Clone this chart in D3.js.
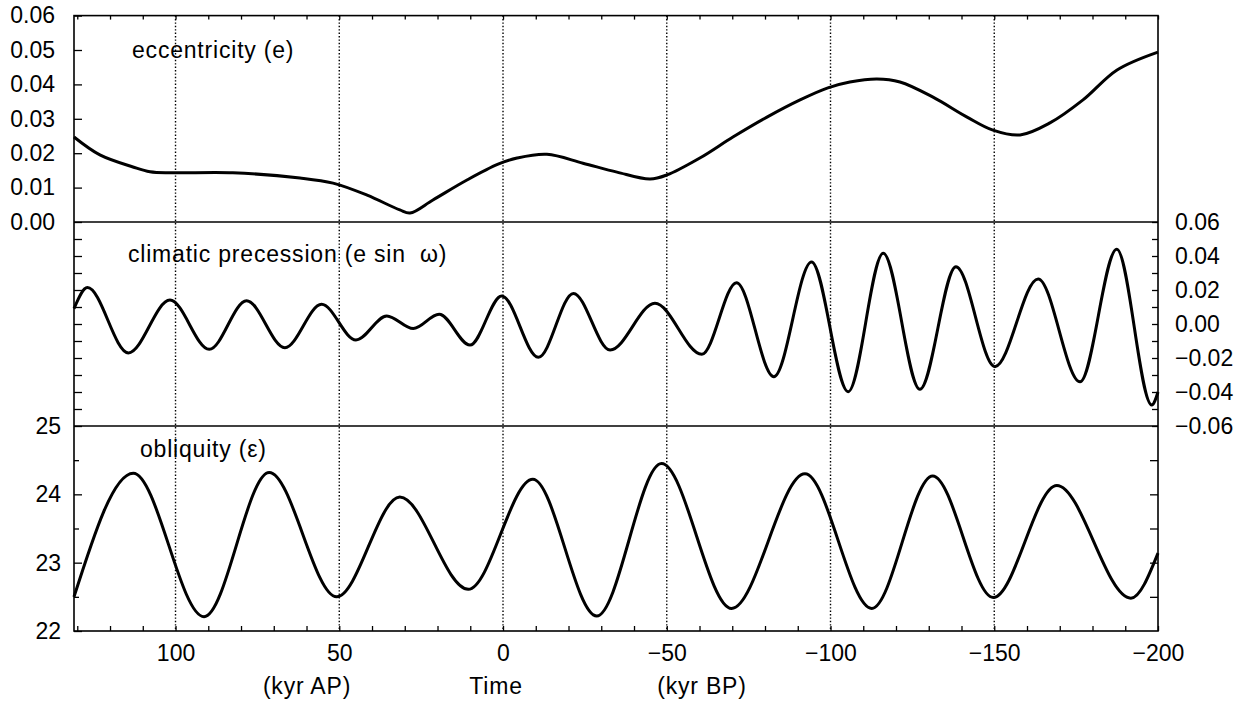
<!DOCTYPE html>
<html><head><meta charset="utf-8">
<script src="https://cdn.jsdelivr.net/npm/d3@7"></script>
<style>
html,body{margin:0;padding:0;background:#fff;}
svg{display:block;font-family:"Liberation Sans",Arial,Helvetica,sans-serif;}
</style></head>
<body>
<svg id="chart" width="1254" height="704"></svg>
<script>
// ---- data (time in kyr; positive = after present, negative = before present)
const eccTime = [131,123.1,113,107.8,101.1,82.5,62,51.9,41.5,31.5,28.4,21.4,11,1.5,-4.3,-13.4,-24.4,-34.8,-44.9,-50.1,-60.1,-70.2,-80.6,-90.7,-99.2,-105.9,-114.2,-121.2,-131.3,-141.7,-149.6,-157.9,-167,-177.1,-187.5,-200];
const eccValue = [0.0247,0.0195,0.016,0.0146,0.0143,0.0143,0.0128,0.0113,0.0078,0.0035,0.0026,0.0064,0.0122,0.0168,0.0186,0.0197,0.0171,0.0145,0.0125,0.0137,0.0186,0.0247,0.0305,0.0355,0.039,0.0407,0.0416,0.0407,0.0363,0.0305,0.0267,0.0253,0.0288,0.0355,0.0442,0.0494];

const precTime = [131,126.9,114.4,101.7,89.7,78.3,66.6,55.4,44.9,35.5,27.4,19.5,10.1,0.4,-10.8,-21.5,-32.7,-46.4,-60.7,-71.3,-82.7,-94.2,-105.4,-116.1,-127.3,-138.3,-150.2,-163.4,-176.2,-187.4,-198.1,-200];
const precValue = [0.009,0.0214,-0.017,0.0141,-0.0149,0.0137,-0.0139,0.0116,-0.0094,0.0047,-0.0027,0.0057,-0.0124,0.0165,-0.0196,0.018,-0.0153,0.0122,-0.0178,0.0243,-0.031,0.0365,-0.0398,0.0416,-0.0384,0.0337,-0.0251,0.0265,-0.034,0.044,-0.0476,-0.040];

const oblTime = [131,112.9,91.3,71.4,50.8,31.5,10.6,-9.1,-28.6,-48.4,-69.8,-92.2,-112.6,-131.2,-149.7,-169.1,-191.7,-200];
const oblValue = [22.5,24.31,22.21,24.32,22.5,23.96,22.61,24.22,22.22,24.45,22.33,24.3,22.33,24.27,22.49,24.13,22.48,23.14];

const xTickValues = d3.range(130, -201, -10);
const xLabelValues = [100, 50, 0, -50, -100, -150, -200];
const gridValues = [100, 50, 0, -50, -100, -150];
const eccTicks = [0, 0.01, 0.02, 0.03, 0.04, 0.05, 0.06];
const precTicks = d3.range(-0.06, 0.0601, 0.01).map(v => +v.toFixed(2));
const precLabels = [0.06, 0.04, 0.02, 0, -0.02, -0.04, -0.06];
const oblTicks = [22, 22.5, 23, 23.5, 24, 24.5, 25];
const oblLabels = [22, 23, 24, 25];

const titles = ["eccentricity (e)", "climatic precession (e sin \u00a0\u03c9)", "obliquity (\u03b5)"];
const axisTitles = ["(kyr AP)", "Time", "(kyr BP)"];

// ---- layout
const L = 74, R = 1158, T = 15.6, B1 = 222, B2 = 426, B = 631;
const svg = d3.select("#chart");
const x = d3.scaleLinear().domain([131, -200]).range([L, R]);
const yE = d3.scaleLinear().domain([0, 0.06]).range([B1, T]);
const yP = d3.scaleLinear().domain([-0.06, 0.06]).range([B2, B1]);
const yO = d3.scaleLinear().domain([22, 25]).range([B, B2]);

const minus = s => s.replace(/-/g, "\u2212");

// dotted verticals
svg.append("g").selectAll("line").data(gridValues).join("line")
  .attr("x1", d => x(d)).attr("x2", d => x(d)).attr("y1", T).attr("y2", B)
  .attr("stroke", "#000").attr("stroke-width", 1.4).attr("stroke-dasharray", "1.4,2");

function styleAxis(g){
  g.select(".domain").remove();
  g.selectAll("line").attr("stroke", "#000").attr("stroke-width", 1.3);
  g.selectAll("text").attr("font-size", 23).attr("fill", "#000");
}

// top ticks
svg.append("g").attr("transform", `translate(0,${T})`)
  .call(d3.axisBottom(x).tickValues(xTickValues).tickSize(4).tickFormat(""))
  .call(styleAxis);
// bottom axis
svg.append("g").attr("transform", `translate(0,${B})`)
  .call(d3.axisBottom(x).tickValues(xTickValues).tickSizeInner(-5).tickSizeOuter(0).tickPadding(14)
    .tickFormat(d => xLabelValues.includes(d) ? minus(String(d)) : ""))
  .call(styleAxis);

// left axes
svg.append("g").attr("transform", `translate(${L},0)`)
  .call(d3.axisLeft(yE).tickValues(eccTicks).tickSizeInner(-8).tickSizeOuter(0).tickPadding(19)
    .tickFormat(d3.format(".2f")))
  .call(styleAxis);
svg.append("g").attr("transform", `translate(${L},0)`)
  .call(d3.axisLeft(yP).tickValues(precTicks.filter(v => Math.abs(v) < 0.055)).tickSizeInner(-8).tickSizeOuter(0).tickFormat(""))
  .call(styleAxis);
const leftO = svg.append("g").attr("transform", `translate(${L},0)`)
  .call(d3.axisLeft(yO).tickValues(oblTicks).tickSizeInner(-8).tickSizeOuter(0).tickPadding(13)
    .tickFormat(d => oblLabels.includes(d) ? String(d) : ""))
  .call(styleAxis);
leftO.selectAll(".tick").filter(d => !Number.isInteger(d)).select("line").attr("x2", 5);

// right axes
svg.append("g").attr("transform", `translate(${R},0)`)
  .call(d3.axisRight(yP).tickValues(precTicks).tickSizeInner(-6).tickSizeOuter(0).tickPadding(17)
    .tickFormat(d => precLabels.some(v => Math.abs(v - d) < 1e-9) ? minus(d3.format(".2f")(d)) : ""))
  .call(styleAxis);
svg.append("g").attr("transform", `translate(${R},0)`)
  .call(d3.axisRight(yO).tickValues(oblTicks.filter(v => v > 22 && v < 25)).tickSizeInner(-8).tickSizeOuter(0).tickFormat(""))
  .call(styleAxis);

// frame & separators
const frame = svg.append("g").attr("stroke", "#000").attr("stroke-width", 1.6).attr("fill", "none");
frame.append("rect").attr("x", L).attr("y", T).attr("width", R - L).attr("height", B - T);
[B1, B2].forEach(yy => frame.append("line").attr("x1", L).attr("x2", R).attr("y1", yy).attr("y2", yy));

// curves
function drawCurve(ts, vs, y, curve){
  const pts = ts.map((t, i) => [t, vs[i]]);
  svg.append("path").datum(pts)
    .attr("fill", "none").attr("stroke", "#000").attr("stroke-width", 3)
    .attr("stroke-linejoin", "round")
    .attr("d", d3.line().x(d => x(d[0])).y(d => y(d[1])).curve(curve));
}
drawCurve(eccTime, eccValue, yE, d3.curveCatmullRom.alpha(0.5));
drawCurve(precTime, precValue, yP, d3.curveMonotoneX);
drawCurve(oblTime, oblValue, yO, d3.curveMonotoneX);

// titles
const tpos = [[132, 58], [128, 262], [140, 457]];
svg.append("g").selectAll("text").data(titles).join("text")
  .attr("x", (d, i) => tpos[i][0]).attr("y", (d, i) => tpos[i][1])
  .attr("font-size", 23).attr("letter-spacing", 0.8).style("white-space", "pre")
  .text(d => d);

// axis titles
const apos = [307, 496, 702];
svg.append("g").selectAll("text").data(axisTitles).join("text")
  .attr("x", (d, i) => apos[i]).attr("y", 694).attr("text-anchor", "middle")
  .attr("font-size", 23).attr("letter-spacing", 0.8)
  .text(d => d);
</script>
</body></html>
